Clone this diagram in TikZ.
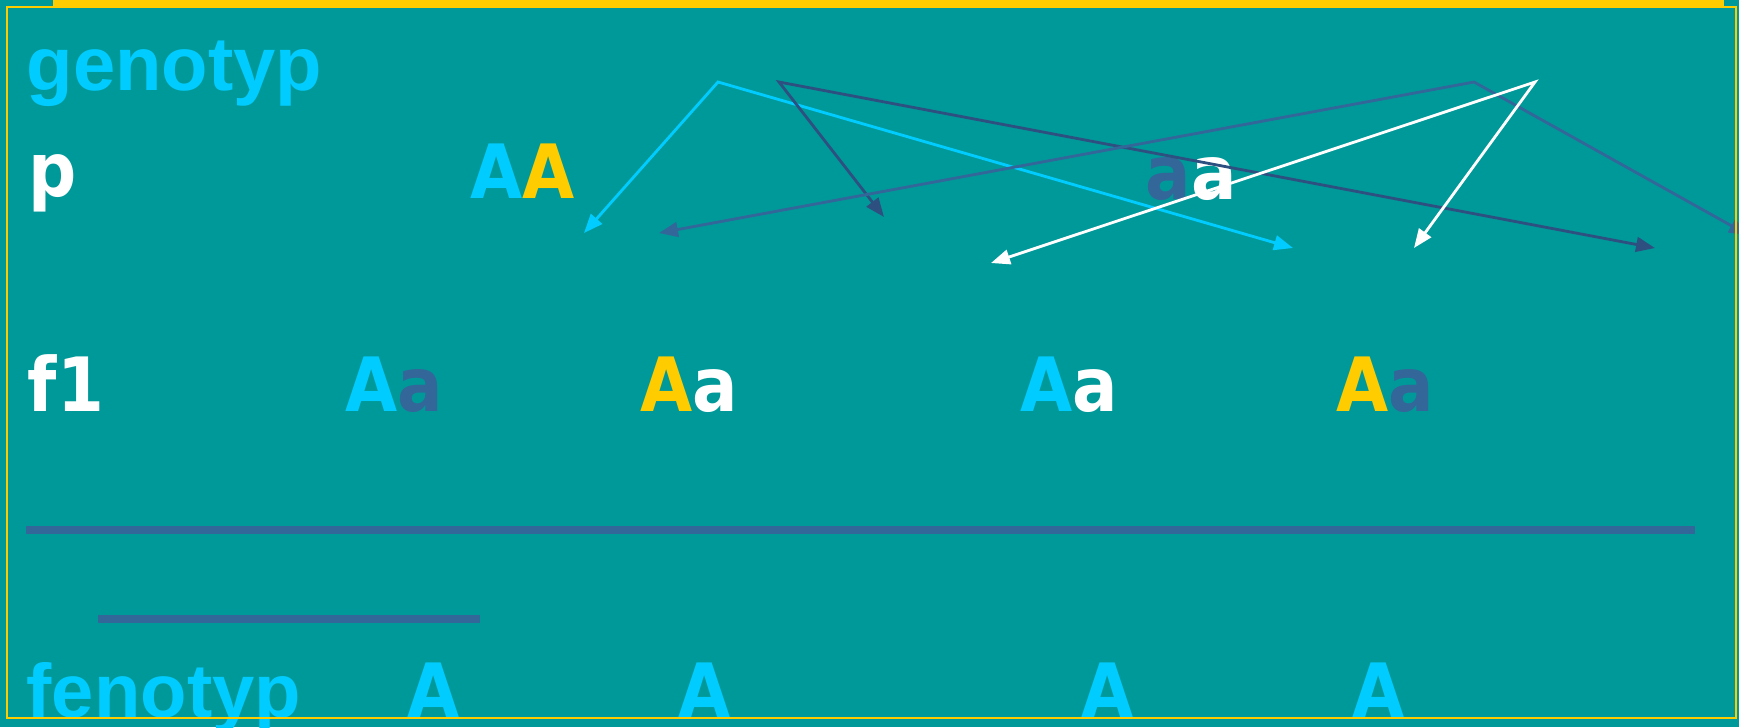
\documentclass[tikz,border=0pt]{standalone}
\usepackage{fontspec}
\setmainfont{Liberation Sans}
\newfontfamily\letterfont{DejaVu Sans}[FakeStretch=0.9]
\usetikzlibrary{arrows.meta,positioning}

\definecolor{slidebg}{HTML}{009999}
\definecolor{cyanA}{HTML}{00CCFF}
\definecolor{yellowA}{HTML}{FFCC00}
\definecolor{bluea}{HTML}{336699}
\definecolor{darkline}{HTML}{2E5080}

\tikzset{
  heading/.style={anchor=base west, inner sep=0pt, text=cyanA, font=\fontsize{21.6pt}{24pt}\selectfont\bfseries},
  allele/.style={anchor=base west, inner sep=0pt, font=\letterfont\fontsize{21.3pt}{24pt}\selectfont\bfseries},
  gamete/.style={line width=0.8pt, line join=miter, {Triangle[length=5.4pt,width=4.2pt]}-{Triangle[length=5.4pt,width=4.2pt]}},
  barline/.style={bluea, line width=2pt}
}

\begin{document}
\begin{tikzpicture}[x=0.01cm, y=-0.01cm]
% 背景
\useasboundingbox (0,0) rectangle (1739,727);
\fill[slidebg] (0,0) rectangle (1739,727);
\fill[yellowA] (53,0) rectangle (1724,6);

% 亲本
\node[heading] (genotyp) at (26,90) {genotyp};
\node[allele, text=white] (prow) at (28,196) {p};
\node[allele] (parentAA) at (470,198) {{\color{cyanA}A}{\color{yellowA}A}};
\node[allele] (parentaa) at (1145,199) {{\color{bluea}a}{\color{white}a}};

% 子一代
\node[allele, text=white] (fone) at (27,411) {f1};
\node[allele] (childA) at (345,411) {{\color{cyanA}A}{\color{bluea}a}};
\node[allele] (childB) at (640,411) {{\color{yellowA}A}{\color{white}a}};
\node[allele] (childC) at (1020,411) {{\color{cyanA}A}{\color{white}a}};
\node[allele] (childD) at (1336,411) {{\color{yellowA}A}{\color{bluea}a}};

% 横线
\draw[barline] (26,530) -- (1695,530);
\draw[barline] (98,619) -- (480,619);

% 表型
\node[heading] (fenotyp) at (26,717) {fenotyp};
\node[allele, text=cyanA] (phenA) at (407,717) {A};
\node[allele, text=cyanA] (phenB) at (678,717) {A};
\node[allele, text=cyanA] (phenC) at (1081,717) {A};
\node[allele, text=cyanA] (phenD) at (1352,717) {A};

% 配子
\coordinate (cyanTop) at (718,82);
\coordinate (cyanL) at (584,233);
\coordinate (cyanR) at (1293,248);
\coordinate (darkTop) at (779,82);
\coordinate (darkL) at (884,217);
\coordinate (darkR) at (1655,248);
\coordinate (midTop) at (1474,82);
\coordinate (midL) at (659,233);
\coordinate (midR) at (1748,235);
\coordinate (whiteTop) at (1535,82);
\coordinate (whiteL) at (991,263);
\coordinate (whiteR) at (1414,248);

\draw[gamete, cyanA] (cyanL) -- (cyanTop) -- (cyanR);
\draw[gamete, darkline] (darkL) -- (darkTop) -- (darkR);
\draw[gamete, bluea] (midL) -- (midTop) -- (midR);
\draw[gamete, white] (whiteL) -- (whiteTop) -- (whiteR);

% 边框
\draw[yellowA, line width=0.55pt] (7,7) rectangle (1736,718);
\end{tikzpicture}
\end{document}
